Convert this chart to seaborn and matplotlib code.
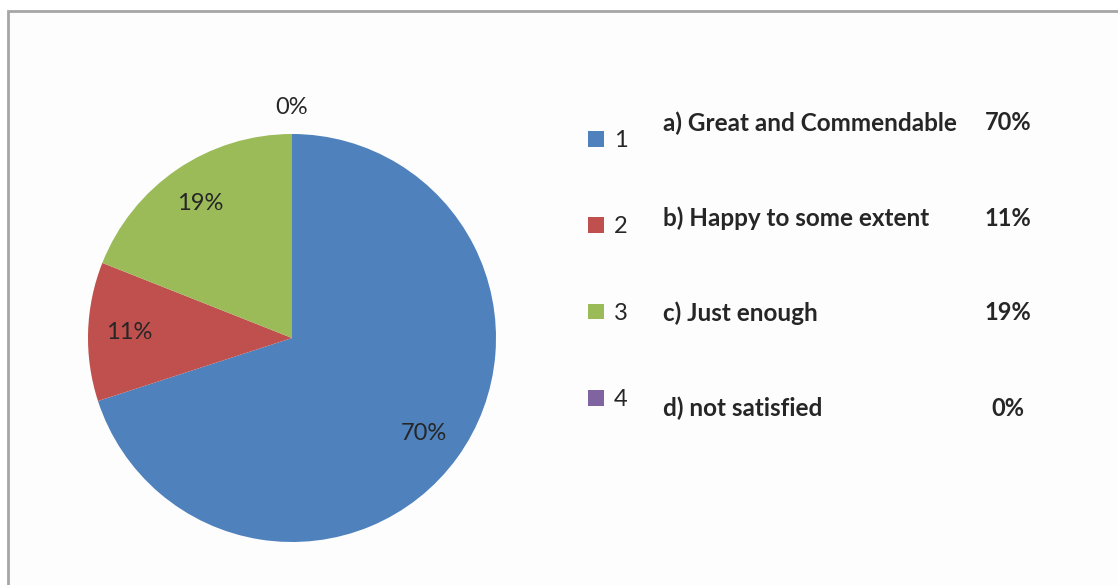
import matplotlib
matplotlib.use("Agg")
import matplotlib.pyplot as plt
from matplotlib.patches import Rectangle
import seaborn as sns
import numpy as np

# survey answers
categories = ["1", "2", "3", "4"]
answers = ["a) Great and Commendable", "b) Happy to some extent",
           "c) Just enough", "d) not satisfied"]
shares = [70, 11, 19, 0]
colors = ["#4F81BD", "#C0504D", "#9BBB59", "#8064A2"]

sns.set_theme(style="white")
plt.rcParams['font.family'] = ['Lato', 'DejaVu Sans']

W, H = 1118, 585
fig = plt.figure(figsize=(W / 100, H / 100), dpi=100)
fig.patch.set_facecolor('white')

# chart frame (runs off the right and bottom edge)
fig.add_artist(Rectangle((8 / W, -0.1), 1.2, 1 - 11 / H + 0.1,
                         transform=fig.transFigure, facecolor='#FDFDFD',
                         edgecolor='#A6A6A6', lw=2, zorder=0))

ax = fig.add_axes([88 / W, 43 / H, 408 / W, 408 / H])
wedges, _ = ax.pie(shares, colors=colors, startangle=90, counterclock=False,
                   radius=1, wedgeprops=dict(linewidth=0))
ax.set_xlim(-1, 1)
ax.set_ylim(-1, 1)
ax.set_aspect('equal')
ax.axis('off')

for w, v in zip(wedges, shares):
    theta = np.deg2rad((w.theta1 + w.theta2) / 2)
    r = 1.13 if v == 0 else 0.8
    ax.text(r * np.cos(theta), r * np.sin(theta), f"{v}%", ha='center',
            va='center', fontsize=17, color='#262626')

leg = fig.legend(wedges, categories, loc='upper left',
                 bbox_to_anchor=(588 / W, 1 - 130 / H), frameon=False,
                 fontsize=17, handlelength=0.66, handleheight=0.66,
                 handletextpad=0.45, labelspacing=2.77, borderpad=0,
                 borderaxespad=0)
for t in leg.get_texts():
    t.set_color('#262626')

for i, (a, v) in enumerate(zip(answers, shares)):
    y = 1 - (123 + 95 * i) / H
    fig.text(663 / W, y, a, ha='left', va='center', fontsize=17.5,
             fontweight='bold', color='#262626')
    fig.text(1008 / W, y, f"{v}%", ha='center', va='center', fontsize=17,
             fontweight='bold', color='#262626')

fig.savefig("out.png", dpi=100)
